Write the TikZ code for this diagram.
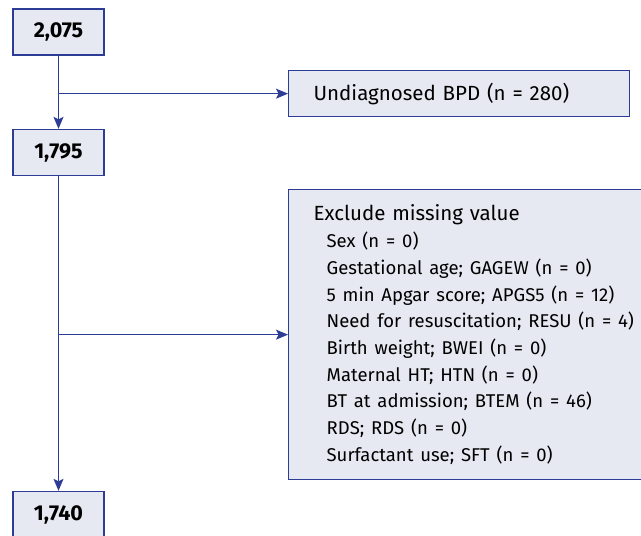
\documentclass[tikz,border=0pt]{standalone}
\usepackage{fontspec}
\setmainfont{Fira Sans}
\usepackage{tikz}
\usetikzlibrary{arrows.meta}
\definecolor{flowblue}{HTML}{2D3C94}
\definecolor{flowfill}{HTML}{E6E9F2}
\newcommand{\exclitem}[1]{\hspace*{13pt}{\fontsize{18.5}{26.7}\selectfont #1}}

\begin{document}
\begin{tikzpicture}[x=1pt,y=-1pt,->,>={Stealth[length=12pt,width=10pt,inset=2.5pt]},
  count node/.style={rectangle,draw=flowblue,fill=flowfill,line width=1.3pt,
    minimum width=91pt,minimum height=46pt,inner sep=0pt,
    font=\fontsize{21.5}{22}\selectfont\bfseries},
  side node/.style={rectangle,draw=flowblue,fill=flowfill,line width=1.3pt,
    anchor=north west,inner xsep=25pt,inner ysep=0pt,align=left,
    font=\fontsize{20.5}{26.7}\selectfont}]
\useasboundingbox (0,0) rectangle (641,536);
\clip (0,0) rectangle (641,536);

% main column
  \node[count node] (n2075) at (58.5,32) {2,075};
  \node[count node] (n1795) at (58.5,152.5) {1,795};
  \node[count node] (n1740) at (58.5,514.5) {1,740};

% side boxes
  \node[side node,minimum width=341pt,minimum height=46pt,text width=291pt]
    (undiag) at (288,70) {Undiagnosed BPD (n = 280)};
  \node[side node,minimum width=400pt,minimum height=290pt,text width=350pt]
    (exclude) at (288,189) {Exclude missing value\\
    \exclitem{Sex (n = 0)}\\
    \exclitem{Gestational age; GAGEW (n = 0)}\\
    \exclitem{5 min Apgar score; APGS5 (n = 12)}\\
    \exclitem{Need for resuscitation; RESU (n = 4)}\\
    \exclitem{Birth weight; BWEI (n = 0)}\\
    \exclitem{Maternal HT; HTN (n = 0)}\\
    \exclitem{BT at admission; BTEM (n = 46)}\\
    \exclitem{RDS; RDS (n = 0)}\\
    \exclitem{Surfactant use; SFT (n = 0)}};

% branch points
  \coordinate (b1) at (n2075.south |- undiag.west);
  \coordinate (b2) at (n1795.south |- exclude.west);

  \path[color=flowblue,line width=1.2pt]
    (n2075) edge (n1795)
    (n1795) edge (n1740)
    (b1) edge (undiag)
    (b2) edge (exclude);

\end{tikzpicture}
\end{document}
